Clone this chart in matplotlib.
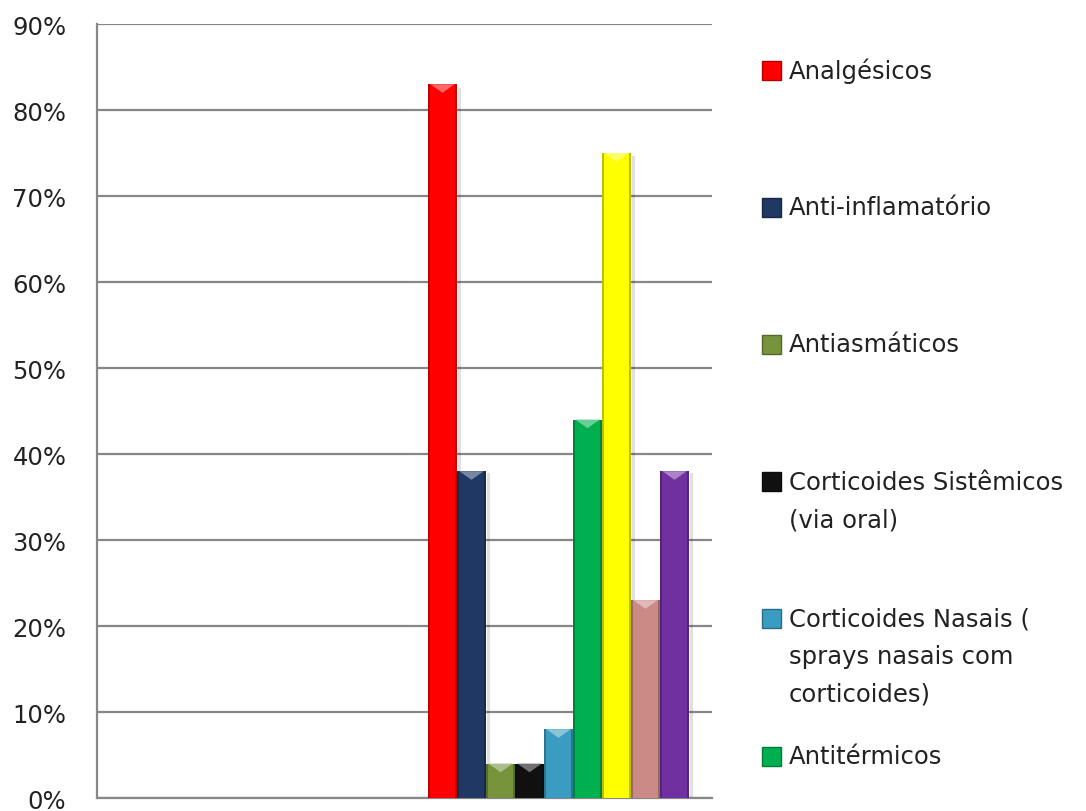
import matplotlib.pyplot as plt
from matplotlib.patches import Polygon, Rectangle
from matplotlib.ticker import PercentFormatter
import matplotlib.colors as mcolors

# percentage of respondents per medication class
values = [83, 38, 4, 4, 8, 44, 75, 23, 38]
colors = ['#FF0000', '#1F3864', '#77933C', '#101010', '#3A9CC0',
          '#00B050', '#FFFF00', '#CC8A87', '#7030A0']
legend_labels = ['Analgésicos', 'Anti-inflamatório', 'Antiasmáticos',
                 'Corticoides Sistêmicos\n(via oral)',
                 'Corticoides Nasais (\nsprays nasais com\ncorticoides)',
                 'Antitérmicos']
yticks = [0, 10, 20, 30, 40, 50, 60, 70, 80, 90]

plt.rcParams['font.family'] = ['DejaVu Sans']

fig = plt.figure(figsize=(10.86, 8.12), dpi=100)
ax = fig.add_axes([0.0893, 0.016, 0.5663, 0.9532])

grid_gray = '#878787'


def lighten(c, amt):
    r, g, b = mcolors.to_rgb(c)
    return (r + (1 - r) * amt, g + (1 - g) * amt, b + (1 - b) * amt)


def darken(c, amt):
    r, g, b = mcolors.to_rgb(c)
    return (r * (1 - amt), g * (1 - amt), b * (1 - amt))


xs = list(range(len(values)))
bars = ax.bar(xs, values, width=1.0, color=colors, edgecolor='none', zorder=3)

# bevelled look: darker sides and a light notch at the top of every bar
bevel = 1.0
for bar, c in zip(bars, colors):
    x0 = bar.get_x()
    w = bar.get_width()
    h = bar.get_height()
    side = darken(c, 0.25)
    ax.add_patch(Rectangle((x0, 0), w * 0.08, h, color=side, lw=0, zorder=4))
    ax.add_patch(Rectangle((x0 + w * 0.92, 0), w * 0.08, h, color=side, lw=0, zorder=4))
    notch = Polygon([(x0 + w * 0.08, h), (x0 + w * 0.92, h), (x0 + w / 2, h - bevel)],
                    closed=True, color=lighten(c, 0.4), lw=0, zorder=5)
    ax.add_patch(notch)
    ax.add_patch(Rectangle((x0 + w + 0.02, 0), 0.12, h * 0.995, color='#000000',
                           alpha=0.12, lw=0, zorder=2))

ax.set_xlim(-11.91, 9.29)
ax.set_ylim(0, 90)
ax.set_yticks(yticks)
ax.yaxis.set_major_formatter(PercentFormatter(decimals=0))
ax.tick_params(axis='y', length=0, pad=22, labelsize=17.5, colors='#222222')
ax.tick_params(axis='x', length=0, labelbottom=False)
ax.grid(axis='y', color=grid_gray, lw=1.6, zorder=1)
for side in ['top', 'right']:
    ax.spines[side].set_visible(False)
ax.spines['left'].set_color(grid_gray)
ax.spines['left'].set_linewidth(1.6)
ax.spines['bottom'].set_color(grid_gray)
ax.spines['bottom'].set_linewidth(1.6)

# legend drawn by hand, one slot per entry
W, H = 1086, 812
first_y = 71
step = 137.2
line_h = 37.5
for i, (lab, c) in enumerate(zip(legend_labels, colors)):
    yc = first_y + i * step
    sq = Rectangle((762 / W, 1 - (yc + 9.5) / H), 19 / W, 19 / H,
                   transform=fig.transFigure, facecolor=c,
                   edgecolor=darken(c, 0.3), lw=1, zorder=3)
    fig.patches.append(sq)
    for j, part in enumerate(lab.split('\n')):
        fig.text(789 / W, 1 - (yc + j * line_h) / H, part, fontsize=17.5,
                 color='#222222', va='center', ha='left')

fig.savefig('out.png', dpi=100, facecolor='white')
